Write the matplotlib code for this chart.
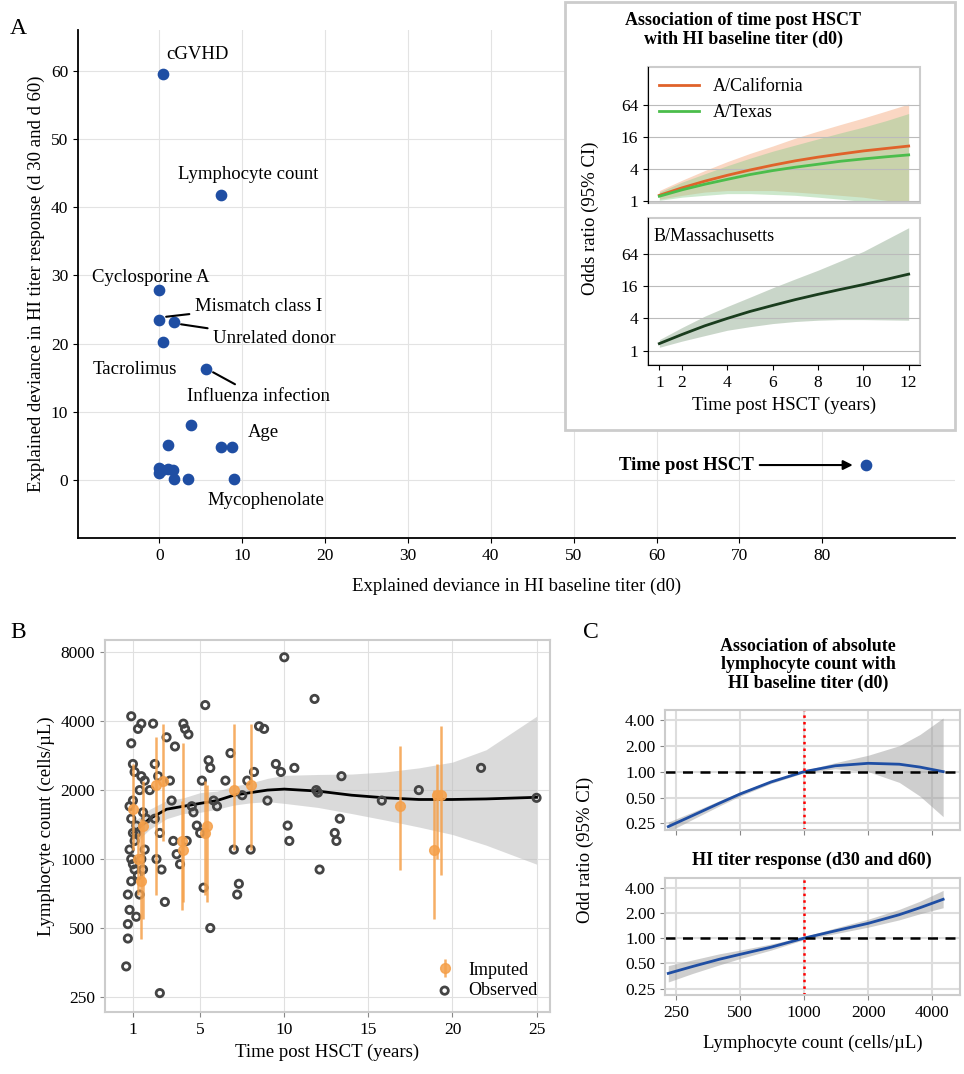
import matplotlib
matplotlib.use("Agg")
import matplotlib.pyplot as plt
import numpy as np
from matplotlib.patches import Rectangle

plt.rcParams['font.family'] = ['Liberation Serif', 'DejaVu Serif']
plt.rcParams['font.size'] = 12

# ---------------- Data ----------------
# Panel A
a_names = ["cGVHD", "Lymphocyte count", "Cyclosporine A", "Mismatch class I", "Unrelated donor",
           "", "Tacrolimus", "", "", "Age", "", "", "", "", "", "", "", "", "Mycophenolate", "Time post HSCT"]
a_x = [0.5, 7.5, 0.0, 0.0, 1.8, 0.4, 5.7, 3.8, 1.0, 7.5, 8.8, 0.0, 0.3, 0.0, 1.0, 1.7, 1.8, 3.5, 9.0, 85.3]
a_y = [59.5, 41.8, 27.8, 23.4, 23.2, 20.2, 16.3, 8.1, 5.2, 4.8, 4.8, 1.8, 1.5, 1.0, 1.6, 1.4, 0.2, 0.1, 0.2, 2.2]

# Inset A
t_years = [1, 2, 3, 4, 5, 6, 7, 8, 9, 10, 11, 12]
cal_or = [1.3, 1.8, 2.4, 3.1, 3.9, 4.8, 5.8, 6.8, 7.8, 8.9, 9.9, 11.0]
cal_lo = [1.1, 1.3, 1.5, 1.6, 1.6, 1.6, 1.5, 1.4, 1.3, 1.2, 1.05, 0.95]
cal_hi = [1.6, 2.5, 3.8, 5.6, 8.0, 11.0, 15.5, 21.0, 28.0, 37.0, 50.0, 68.0]
tex_or = [1.25, 1.65, 2.1, 2.6, 3.2, 3.8, 4.4, 5.0, 5.7, 6.3, 6.9, 7.5]
tex_lo = [1.05, 1.2, 1.3, 1.4, 1.4, 1.35, 1.3, 1.2, 1.1, 1.0, 0.9, 0.8]
tex_hi = [1.5, 2.3, 3.3, 4.7, 6.5, 8.8, 11.5, 15.0, 19.5, 25.0, 33.0, 45.0]
mas_or = [1.35, 2.0, 2.9, 4.0, 5.4, 7.0, 9.0, 11.3, 14.0, 17.2, 21.5, 27.0]
mas_lo = [1.15, 1.5, 1.9, 2.4, 2.8, 3.2, 3.5, 3.7, 3.8, 3.8, 3.75, 3.7]
mas_hi = [1.6, 2.7, 4.4, 6.7, 10.0, 15.0, 22.0, 32.0, 48.0, 72.0, 120.0, 200.0]

# Panel B
obs_t = [0.9,0.9,1.0,1.1,0.8,0.9,1.0,1.2,0.8,0.9,1.0,1.1,0.9,1.3,0.7,0.8,0.7,0.7,0.6,1.2,1.0,1.1,1.2,1.4,1.3,1.5,1.5,1.7,1.6,1.8,1.5,1.7,1.6,1.4,
         2.0,2.2,2.3,2.5,2.3,2.6,2.4,2.7,2.9,2.6,3.0,3.2,3.5,3.3,3.4,3.6,3.8,4.0,4.1,4.3,4.5,4.6,4.2,4.8,5.0,5.1,5.3,5.5,5.6,5.8,5.2,5.6,
         6.0,6.5,6.8,7.0,7.2,7.3,7.5,7.8,8.0,8.2,8.5,8.8,9.0,9.5,9.8,10.0,10.2,10.3,10.6,11.8,11.9,12.1,12.0,13.0,13.1,13.4,13.3,15.8,18.0,21.7,25.0]
obs_c = [4200,3200,2600,2400,1700,1500,1300,1300,1100,1000,950,900,800,850,700,600,520,450,340,560,1800,1200,1400,2000,3700,3900,2300,2200,1600,1500,1000,1100,900,700,
         2000,3900,2600,2300,1500,1300,1000,900,650,260,3400,2200,3100,1800,1200,1050,950,3900,3700,3500,1700,1600,1200,1400,1300,2200,4700,2700,2500,1800,750,500,
         1700,2200,2900,1100,700,780,1900,2200,1100,2400,3800,3700,1800,2600,2400,7600,1400,1200,2500,5000,2000,900,1950,1300,1200,2300,1500,1800,2000,2500,1850]
imp_t = [1.0, 1.3, 1.5, 1.6, 2.4, 2.8, 3.9, 4.0, 5.3, 5.4, 7.0, 8.0, 16.9, 18.9, 19.3, 19.1]
imp_c = [1650, 1000, 800, 1400, 2100, 2200, 1200, 1100, 1300, 1400, 2000, 2100, 1700, 1100, 1900, 1900]
imp_lo = [1100, 700, 450, 550, 700, 1200, 600, 650, 700, 650, 1100, 1100, 900, 550, 850, 1000]
imp_hi = [2600, 1300, 1500, 2200, 3400, 3900, 1800, 3200, 2200, 2100, 3900, 3900, 3100, 2000, 3800, 2600]
fit_t = [1, 2, 3, 4, 5, 6, 7, 8, 9, 10, 12, 14, 16, 18, 20, 22, 25]
fit_c = [1300, 1500, 1650, 1700, 1750, 1800, 1900, 1950, 2000, 2020, 1980, 1900, 1850, 1820, 1820, 1830, 1860]
fit_lo = [1150, 1350, 1500, 1580, 1600, 1650, 1720, 1760, 1780, 1750, 1680, 1580, 1480, 1380, 1280, 1150, 950]
fit_hi = [1450, 1650, 1800, 1850, 1950, 1980, 2080, 2150, 2250, 2320, 2340, 2350, 2400, 2500, 2650, 3000, 4200]

# Panel C
lc = [230, 300, 400, 500, 700, 1000, 1400, 2000, 2800, 3500, 4500]
c1_or = [0.23, 0.31, 0.43, 0.55, 0.76, 1.0, 1.17, 1.25, 1.22, 1.13, 1.0]
c1_lo = [0.20, 0.28, 0.40, 0.52, 0.73, 0.97, 1.08, 1.0, 0.75, 0.52, 0.30]
c1_hi = [0.26, 0.34, 0.46, 0.58, 0.79, 1.03, 1.27, 1.55, 2.0, 2.7, 4.2]
c2_or = [0.38, 0.46, 0.56, 0.64, 0.78, 1.0, 1.22, 1.5, 1.9, 2.3, 2.9]
c2_lo = [0.30, 0.38, 0.48, 0.57, 0.72, 0.96, 1.13, 1.35, 1.65, 1.95, 2.3]
c2_hi = [0.47, 0.55, 0.65, 0.72, 0.85, 1.04, 1.32, 1.68, 2.2, 2.75, 3.7]

BLUE = "#1f4ea3"
W, H = 964, 1074
def fr(x0, y0, x1, y1):
    return [x0 / W, 1 - y1 / H, (x1 - x0) / W, (y1 - y0) / H]

fig = plt.figure(figsize=(9.64, 10.74), dpi=100)

# ---------------- Panel A ----------------
ax = fig.add_axes(fr(78, 30, 955, 538))
ax.scatter(a_x, a_y, s=55, color=BLUE, zorder=3)
ax.set_xlim(-9.8, 96)
ax.set_ylim(-8.5, 66)
ax.set_xticks(range(0, 81, 10))
ax.set_yticks(range(0, 61, 10))
ax.grid(color="#e3e3e3", lw=0.8)
ax.set_axisbelow(True)
for s in ["top", "right"]:
    ax.spines[s].set_visible(False)
ax.spines["left"].set_linewidth(1.3)
ax.spines["bottom"].set_linewidth(1.3)
ax.tick_params(labelsize=12.5)
ax.set_xlabel("Explained deviance in HI baseline titer (d0)", fontsize=13.5, labelpad=10)
ax.set_ylabel("Explained deviance in HI titer response (d 30 and d 60)", fontsize=13.5)
fs = 13.5
ax.text(a_x[0] + 0.3, a_y[0] + 2.3, "cGVHD", fontsize=fs)
ax.text(a_x[1] - 5.2, a_y[1] + 2.3, "Lymphocyte count", fontsize=fs)
ax.text(a_x[2] - 8.1, a_y[2] + 1.3, "Cyclosporine A", fontsize=fs)
ax.annotate("Mismatch class I", xy=(a_x[3] + 0.5, a_y[3] + 0.5), xytext=(4.3, 25.5), fontsize=fs,
            arrowprops=dict(arrowstyle="-", color="black", lw=1.5), va="center")
ax.annotate("Unrelated donor", xy=(a_x[4] + 0.5, a_y[4] - 0.3), xytext=(6.5, 20.8), fontsize=fs,
            arrowprops=dict(arrowstyle="-", color="black", lw=1.5), va="center")
ax.text(-8.0, 16.2, "Tacrolimus", fontsize=fs, va="center")
ax.annotate("Influenza infection", xy=(a_x[6] + 0.5, a_y[6] - 0.3), xytext=(3.3, 12.2), fontsize=fs,
            arrowprops=dict(arrowstyle="-", color="black", lw=1.5), va="center")
ax.text(10.7, 7.0, "Age", fontsize=fs, va="center")
ax.text(5.8, -3.0, "Mycophenolate", fontsize=fs, va="center")
ax.annotate("Time post HSCT", xy=(a_x[19] - 1.3, a_y[19]), xytext=(55.5, 2.2), fontsize=fs,
            fontweight="bold", va="center", ha="left",
            arrowprops=dict(arrowstyle="-|>", color="black", lw=1.5, mutation_scale=14))
fig.text(10 / W, 1 - 28 / H, "A", fontsize=17, va="center")

# Inset
fig.patches.append(Rectangle((565 / W, 1 - 430 / H), 390 / W, 428 / H, transform=fig.transFigure,
                             facecolor="white", edgecolor="#cccccc", lw=2, zorder=5))
fig.text(743 / W, 1 - 30 / H, "Association of time post HSCT\nwith HI baseline titer (d0)",
         ha="center", va="center", fontsize=13, fontweight="bold", zorder=6)
ORANGE, GREEN, DKG = "#e0622a", "#4bbd4b", "#1a3d1e"
i1 = fig.add_axes(fr(648, 67, 920, 203)); i1.set_zorder(6)
i2 = fig.add_axes(fr(648, 218, 920, 365)); i2.set_zorder(6)
i1.fill_between(t_years, cal_lo, cal_hi, color="#f4a77a", alpha=0.45, lw=0)
i1.fill_between(t_years, tex_lo, tex_hi, color="#8fcc8f", alpha=0.45, lw=0)
i1.plot(t_years, cal_or, color=ORANGE, lw=2, label="A/California")
i1.plot(t_years, tex_or, color=GREEN, lw=2, label="A/Texas")
i1.legend(loc="upper left", frameon=False, fontsize=13, handlelength=2.2, borderaxespad=0.2)
i2.fill_between(t_years, mas_lo, mas_hi, color="#7a9a7a", alpha=0.4, lw=0)
i2.plot(t_years, mas_or, color=DKG, lw=2)
i2.text(0.02, 0.93, "B/Massachusetts", transform=i2.transAxes, fontsize=13, va="top")
for a_, lims in [(i1, (2 ** -0.1, 2 ** 8.4)), (i2, (2 ** -0.9, 2 ** 8.25))]:
    a_.set_yscale("log", base=2)
    a_.set_yticks([1, 4, 16, 64]); a_.set_yticklabels(["1", "4", "16", "64"])
    a_.minorticks_off()
    a_.set_ylim(*lims)
    a_.set_xlim(0.5, 12.5)
    a_.grid(axis="y", color="#bbbbbb", lw=0.8)
    for s in ["top", "right"]:
        a_.spines[s].set_visible(False)
    a_.set_facecolor("white")
    a_.tick_params(labelsize=12.5)
i1.set_xticks([])
i1.spines["bottom"].set_visible(False)
i2.set_xticks([1, 2, 4, 6, 8, 10, 12])
i2.set_xlabel("Time post HSCT (years)", fontsize=13.5)
fig.text(590 / W, 1 - 218 / H, "Odds ratio (95% CI)", rotation=90, va="center", ha="center",
         fontsize=13.5, zorder=7)
for a_ in (i1, i2):
    a_.add_patch(Rectangle((0, 0), 1, 1, transform=a_.transAxes, fill=False,
                           edgecolor="#cccccc", lw=1.5, clip_on=False))

# ---------------- Panel B ----------------
b = fig.add_axes(fr(105, 640, 550, 1012))
b.fill_between(fit_t, fit_lo, fit_hi, color="#bdbdbd", alpha=0.55, lw=0)
b.plot(fit_t, fit_c, color="black", lw=2)
b.scatter(obs_t, obs_c, s=28, facecolor="none", edgecolor="#444444", lw=2, zorder=3, label="Observed")
b.errorbar(imp_t, imp_c, yerr=[np.array(imp_c) - np.array(imp_lo), np.array(imp_hi) - np.array(imp_c)],
           fmt="o", color="#f5a04a", ms=7, elinewidth=1.8, capsize=0, zorder=4, alpha=0.85, label="Imputed")
b.set_yscale("log", base=2)
b.set_yticks([250, 500, 1000, 2000, 4000, 8000])
b.set_yticklabels(["250", "500", "1000", "2000", "4000", "8000"])
b.minorticks_off()
b.set_ylim(215, 9040)
b.set_xlim(-0.66, 25.8)
b.set_xticks([1, 5, 10, 15, 20, 25])
b.grid(color="#e0e0e0", lw=0.8)
b.set_axisbelow(True)
for s in b.spines.values():
    s.set_color("#cccccc"); s.set_linewidth(1.5)
b.tick_params(labelsize=12.5, color="#888888")
b.set_xlabel("Time post HSCT (years)", fontsize=13.5)
b.set_ylabel("Lymphocyte count (cells/µL)", fontsize=13.5)
h, l = b.get_legend_handles_labels()
b.legend(h[::-1], l[::-1], loc="lower right", frameon=False, fontsize=13, handletextpad=0.3,
         borderaxespad=0.3, labelspacing=0.2)
fig.text(10 / W, 1 - 632 / H, "B", fontsize=17, va="center")

# ---------------- Panel C ----------------
fig.text(583 / W, 1 - 632 / H, "C", fontsize=17, va="center")
fig.text(808 / W, 1 - 665 / H, "Association of absolute\nlymphocyte count with\nHI baseline titer (d0)",
         ha="center", va="center", fontsize=13, fontweight="bold", linespacing=1.1)
c1 = fig.add_axes(fr(665, 710, 960, 830))
c2 = fig.add_axes(fr(665, 878, 960, 995))
fig.text(812 / W, 1 - 860 / H, "HI titer response (d30 and d60)", ha="center", va="center",
         fontsize=13, fontweight="bold")
for a_, o, lo, hi in [(c1, c1_or, c1_lo, c1_hi), (c2, c2_or, c2_lo, c2_hi)]:
    a_.fill_between(lc, lo, hi, color="#9e9e9e", alpha=0.5, lw=0)
    a_.plot(lc, o, color=BLUE, lw=2)
    a_.axhline(1, color="black", ls=(0, (4, 3)), lw=1.8)
    a_.axvline(1000, color="red", ls=":", lw=1.8)
    a_.set_xscale("log", base=2); a_.set_yscale("log", base=2)
    a_.set_xlim(222, 5400)
    a_.set_ylim(0.21, 5.2)
    a_.set_yticks([0.25, 0.5, 1, 2, 4]); a_.set_yticklabels(["0.25", "0.50", "1.00", "2.00", "4.00"])
    a_.set_xticks([250, 500, 1000, 2000, 4000]); a_.set_xticklabels(["250", "500", "1000", "2000", "4000"])
    a_.minorticks_off()
    a_.grid(color="#dddddd", lw=1.5)
    a_.set_axisbelow(True)
    for s in a_.spines.values():
        s.set_color("#cccccc"); s.set_linewidth(1.5)
    a_.tick_params(labelsize=12.5, color="#888888")
c1.set_xticklabels([])
c2.set_xlabel("Lymphocyte count (cells/µL)", fontsize=13.5, labelpad=10)
fig.text(585 / W, 1 - 850 / H, "Odd ratio (95% CI)", rotation=90, va="center", ha="center", fontsize=13.5)

fig.savefig("out.png", dpi=100)
